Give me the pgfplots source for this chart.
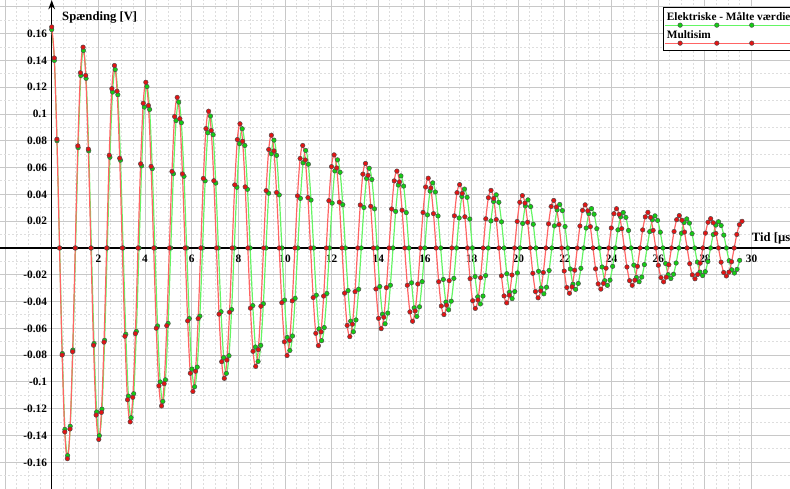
\documentclass[border=0pt]{standalone}
\usepackage{pgfplots}
\pgfplotsset{compat=1.18}
\usepackage{fontspec}
\setmainfont{Liberation Serif}
\usetikzlibrary{arrows.meta}
\definecolor{gline}{RGB}{100,245,100}
\definecolor{gmark}{RGB}{20,205,20}
\definecolor{rline}{RGB}{255,100,100}
\definecolor{rmark}{RGB}{228,20,20}
\definecolor{majgrid}{RGB}{200,200,200}
\definecolor{mingrid}{RGB}{222,222,222}
\begin{document}
\begin{tikzpicture}
\begin{axis}[
  width=592.5pt, height=366.75pt, scale only axis,
  xmin=-2.216, xmax=31.646, ymin=-0.1799, ymax=0.1851,
  axis lines=middle,
  axis line style={black, line width=1.1pt},
  x axis line style={-},
  y axis line style={-{Stealth[length=7pt,width=5pt]}},
  xtick={-2,0,2,4,6,8,10,12,14,16,18,20,22,24,26,28,30},
  xticklabels={,,2,4,6,8,10,12,14,16,18,20,22,24,26,28,30},
  ytick={-0.18,-0.16,-0.14,-0.12,-0.1,-0.08,-0.06,-0.04,-0.02,0,0.02,0.04,0.06,0.08,0.1,0.12,0.14,0.16,0.18},
  yticklabels={,-0.16,-0.14,-0.12,-0.1,-0.08,-0.06,-0.04,-0.02,,0.02,0.04,0.06,0.08,0.1,0.12,0.14,0.16,},
  minor x tick num=3, minor y tick num=1,
  grid=both,
  major grid style={majgrid, line width=0.75pt},
  minor grid style={mingrid, line width=0.75pt, dash pattern=on 1.5pt off 1.5pt},
  major tick length=0pt, minor tick length=0pt,
  tick label style={font=\bfseries\fontsize{8.5}{10}\selectfont},
  xticklabel style={yshift=-2pt},
  legend style={at={(axis description cs:0.8392,0.9857)}, anchor=north west,
    draw=black, line width=0.75pt, fill=white, inner xsep=2.5pt, inner ysep=3.5pt,
    row sep=2pt, font=\bfseries\fontsize{8.5}{10}\selectfont,
    nodes={inner sep=0pt, text height=6pt, text depth=5.5pt}},
  legend cell align=left,
  legend image code/.code={
    \draw[overlay,#1,mark=none] (-1pt,-4pt) -- (140pt,-4pt);
    \path[overlay,#1,draw=none] plot coordinates {(10pt,-4pt) (37.5pt,-4pt) (63.7pt,-4pt)};
  },
]
\addplot[color=gline, line width=0.9pt, smooth, tension=0.55, mark=*, mark size=1.7pt,
  mark options={fill=gmark, draw=black!70, line width=0.35pt, solid}] coordinates {
(0,0.1630) (0.113,0.1400) (0.227,0.0801) (0.340,0) (0.454,-0.0788) (0.567,-0.1354) (0.681,-0.1550) (0.794,-0.1331) (0.907,-0.0762) (1.021,0) (1.134,0.0749) (1.248,0.1287)
(1.361,0.1474) (1.474,0.1266) (1.588,0.0725) (1.701,0) (1.815,-0.0713) (1.928,-0.1224) (2.042,-0.1401) (2.155,-0.1203) (2.268,-0.0689) (2.382,0) (2.495,0.0677) (2.609,0.1164)
(2.722,0.1332) (2.835,0.1144) (2.949,0.0655) (3.062,0) (3.176,-0.0644) (3.289,-0.1106) (3.403,-0.1267) (3.516,-0.1088) (3.629,-0.0623) (3.743,0) (3.856,0.0613) (3.970,0.1052)
(4.083,0.1205) (4.196,0.1034) (4.310,0.0592) (4.423,0) (4.537,-0.0582) (4.650,-0.1000) (4.764,-0.1145) (4.877,-0.0984) (4.990,-0.0563) (5.104,0) (5.217,0.0554) (5.331,0.0951)
(5.444,0.1089) (5.557,0.0935) (5.671,0.0535) (5.784,0) (5.898,-0.0527) (6.011,-0.0904) (6.125,-0.1036) (6.238,-0.0889) (6.351,-0.0509) (6.465,0) (6.578,0.0501) (6.692,0.0860)
(6.805,0.0985) (6.918,0.0846) (7.032,0.0484) (7.145,0) (7.259,-0.0476) (7.372,-0.0818) (7.486,-0.0936) (7.599,-0.0804) (7.712,-0.0460) (7.826,0) (7.939,0.0453) (8.053,0.0778)
(8.166,0.0890) (8.279,0.0765) (8.393,0.0438) (8.506,0) (8.620,-0.0430) (8.733,-0.0739) (8.847,-0.0847) (8.960,-0.0727) (9.073,-0.0416) (9.187,0) (9.300,0.0409) (9.414,0.0703)
(9.527,0.0805) (9.640,0.0691) (9.754,0.0396) (9.867,0) (9.981,-0.0389) (10.094,-0.0668) (10.208,-0.0765) (10.321,-0.0657) (10.434,-0.0376) (10.548,0) (10.661,0.0370) (10.775,0.0636)
(10.888,0.0728) (11.001,0.0625) (11.115,0.0358) (11.228,0) (11.342,-0.0352) (11.455,-0.0604) (11.569,-0.0692) (11.682,-0.0594) (11.795,-0.0340) (11.909,0) (12.022,0.0335) (12.136,0.0575)
(12.249,0.0658) (12.362,0.0565) (12.476,0.0323) (12.589,0) (12.703,-0.0318) (12.816,-0.0546) (12.930,-0.0626) (13.043,-0.0537) (13.156,-0.0308) (13.270,0) (13.383,0.0302) (13.497,0.0519)
(13.610,0.0595) (13.723,0.0511) (13.837,0.0292) (13.950,0) (14.064,-0.0288) (14.177,-0.0494) (14.291,-0.0566) (14.404,-0.0486) (14.517,-0.0278) (14.631,0) (14.744,0.0273) (14.858,0.0470)
(14.971,0.0538) (15.084,0.0462) (15.198,0.0264) (15.311,0) (15.425,-0.0260) (15.538,-0.0447) (15.652,-0.0511) (15.765,-0.0439) (15.878,-0.0251) (15.992,0) (16.105,0.0247) (16.219,0.0425)
(16.332,0.0486) (16.445,0.0418) (16.559,0.0239) (16.672,0) (16.786,-0.0235) (16.899,-0.0404) (17.013,-0.0462) (17.126,-0.0397) (17.239,-0.0227) (17.353,0) (17.466,0.0224) (17.580,0.0384)
(17.693,0.0440) (17.806,0.0378) (17.920,0.0216) (18.033,0) (18.147,-0.0213) (18.260,-0.0365) (18.374,-0.0418) (18.487,-0.0359) (18.600,-0.0206) (18.714,0) (18.827,0.0202) (18.941,0.0347)
(19.054,0.0397) (19.167,0.0341) (19.281,0.0195) (19.394,0) (19.508,-0.0192) (19.621,-0.0330) (19.735,-0.0378) (19.848,-0.0325) (19.961,-0.0186) (20.075,0) (20.188,0.0183) (20.302,0.0314)
(20.415,0.0359) (20.528,0.0309) (20.642,0.0177) (20.755,0) (20.869,-0.0174) (20.982,-0.0298) (21.096,-0.0342) (21.209,-0.0293) (21.322,-0.0168) (21.436,0) (21.549,0.0165) (21.663,0.0284)
(21.776,0.0325) (21.889,0.0279) (22.003,0.0160) (22.116,0) (22.230,-0.0157) (22.343,-0.0270) (22.457,-0.0309) (22.570,-0.0265) (22.683,-0.0152) (22.797,0) (22.910,0.0149) (23.024,0.0256)
(23.137,0.0294) (23.250,0.0252) (23.364,0.0144) (23.477,0) (23.591,-0.0142) (23.704,-0.0244) (23.818,-0.0279) (23.931,-0.0240) (24.044,-0.0137) (24.158,0) (24.271,0.0135) (24.385,0.0232)
(24.498,0.0265) (24.611,0.0228) (24.725,0.0131) (24.838,0) (24.952,-0.0128) (25.065,-0.0220) (25.179,-0.0252) (25.292,-0.0217) (25.405,-0.0124) (25.519,0) (25.632,0.0122) (25.746,0.0210)
(25.859,0.0240) (25.972,0.0206) (26.086,0.0118) (26.199,0) (26.313,-0.0116) (26.426,-0.0199) (26.540,-0.0228) (26.653,-0.0196) (26.766,-0.0112) (26.880,0) (26.993,0.0110) (27.107,0.0190)
(27.220,0.0217) (27.333,0.0186) (27.447,0.0107) (27.560,0) (27.674,-0.0105) (27.787,-0.0180) (27.901,-0.0206) (28.014,-0.0177) (28.127,-0.0101) (28.241,0) (28.354,0.0100) (28.468,0.0171)
(28.581,0.0196) (28.694,0.0168) (28.808,0.0096) (28.921,0) (29.035,-0.0095) (29.148,-0.0163) (29.262,-0.0187) (29.375,-0.0160) (29.488,-0.0092)
};
\addlegendentry{Elektriske - Målte værdier}
\addplot[color=rline, line width=0.9pt, smooth, tension=0.55, mark=*, mark size=1.7pt,
  mark options={fill=rmark, draw=black!70, line width=0.35pt, solid}] coordinates {
(0,0.1650) (0.112,0.1418) (0.224,0.0812) (0.336,0) (0.448,-0.0799) (0.560,-0.1373) (0.673,-0.1573) (0.785,-0.1351) (0.897,-0.0774) (1.009,0) (1.121,0.0762) (1.233,0.1308)
(1.345,0.1499) (1.457,0.1288) (1.569,0.0738) (1.681,0) (1.793,-0.0726) (1.905,-0.1247) (2.018,-0.1429) (2.130,-0.1227) (2.242,-0.0703) (2.354,0) (2.466,0.0692) (2.578,0.1189)
(2.690,0.1362) (2.802,0.1170) (2.914,0.0670) (3.026,0) (3.138,-0.0659) (3.250,-0.1133) (3.363,-0.1298) (3.475,-0.1115) (3.587,-0.0639) (3.699,0) (3.811,0.0628) (3.923,0.1080)
(4.035,0.1237) (4.147,0.1063) (4.259,0.0609) (4.371,0) (4.483,-0.0599) (4.595,-0.1029) (4.708,-0.1179) (4.820,-0.1013) (4.932,-0.0580) (5.044,0) (5.156,0.0571) (5.268,0.0981)
(5.380,0.1124) (5.492,0.0965) (5.604,0.0553) (5.716,0) (5.828,-0.0544) (5.940,-0.0935) (6.053,-0.1071) (6.165,-0.0920) (6.277,-0.0527) (6.389,0) (6.501,0.0519) (6.613,0.0891)
(6.725,0.1021) (6.837,0.0877) (6.949,0.0502) (7.061,0) (7.173,-0.0494) (7.285,-0.0849) (7.398,-0.0973) (7.510,-0.0836) (7.622,-0.0479) (7.734,0) (7.846,0.0471) (7.958,0.0809)
(8.070,0.0927) (8.182,0.0797) (8.294,0.0456) (8.406,0) (8.518,-0.0449) (8.630,-0.0771) (8.743,-0.0884) (8.855,-0.0759) (8.967,-0.0435) (9.079,0) (9.191,0.0428) (9.303,0.0735)
(9.415,0.0842) (9.527,0.0724) (9.639,0.0414) (9.751,0) (9.863,-0.0408) (9.975,-0.0701) (10.088,-0.0803) (10.200,-0.0690) (10.312,-0.0395) (10.424,0) (10.536,0.0389) (10.648,0.0668)
(10.760,0.0765) (10.872,0.0657) (10.984,0.0376) (11.096,0) (11.208,-0.0370) (11.320,-0.0637) (11.433,-0.0729) (11.545,-0.0626) (11.657,-0.0359) (11.769,0) (11.881,0.0353) (11.993,0.0607)
(12.105,0.0695) (12.217,0.0597) (12.329,0.0342) (12.441,0) (12.553,-0.0337) (12.665,-0.0578) (12.778,-0.0662) (12.890,-0.0569) (13.002,-0.0326) (13.114,0) (13.226,0.0321) (13.338,0.0551)
(13.450,0.0631) (13.562,0.0542) (13.674,0.0311) (13.786,0) (13.898,-0.0306) (14.010,-0.0525) (14.123,-0.0602) (14.235,-0.0517) (14.347,-0.0296) (14.459,0) (14.571,0.0291) (14.683,0.0501)
(14.795,0.0574) (14.907,0.0493) (15.019,0.0282) (15.131,0) (15.243,-0.0278) (15.355,-0.0477) (15.468,-0.0547) (15.580,-0.0470) (15.692,-0.0269) (15.804,0) (15.916,0.0265) (16.028,0.0455)
(16.140,0.0521) (16.252,0.0448) (16.364,0.0256) (16.476,0) (16.588,-0.0252) (16.700,-0.0433) (16.813,-0.0497) (16.925,-0.0427) (17.037,-0.0244) (17.149,0) (17.261,0.0240) (17.373,0.0413)
(17.485,0.0473) (17.597,0.0407) (17.709,0.0233) (17.821,0) (17.933,-0.0229) (18.045,-0.0394) (18.158,-0.0451) (18.270,-0.0388) (18.382,-0.0222) (18.494,0) (18.606,0.0218) (18.718,0.0375)
(18.830,0.0430) (18.942,0.0369) (19.054,0.0212) (19.166,0) (19.278,-0.0208) (19.390,-0.0358) (19.503,-0.0410) (19.615,-0.0352) (19.727,-0.0202) (19.839,0) (19.951,0.0198) (20.063,0.0341)
(20.175,0.0391) (20.287,0.0335) (20.399,0.0192) (20.511,0) (20.623,-0.0189) (20.735,-0.0325) (20.848,-0.0372) (20.960,-0.0320) (21.072,-0.0183) (21.184,0) (21.296,0.0180) (21.408,0.0310)
(21.520,0.0355) (21.632,0.0305) (21.744,0.0175) (21.856,0) (21.968,-0.0172) (22.080,-0.0295) (22.193,-0.0338) (22.305,-0.0290) (22.417,-0.0166) (22.529,0) (22.641,0.0164) (22.753,0.0281)
(22.865,0.0322) (22.977,0.0277) (23.089,0.0159) (23.201,0) (23.313,-0.0156) (23.425,-0.0268) (23.538,-0.0307) (23.650,-0.0264) (23.762,-0.0151) (23.874,0) (23.986,0.0149) (24.098,0.0256)
(24.210,0.0293) (24.322,0.0251) (24.434,0.0144) (24.546,0) (24.658,-0.0142) (24.770,-0.0244) (24.883,-0.0279) (24.995,-0.0240) (25.107,-0.0137) (25.219,0) (25.331,0.0135) (25.443,0.0232)
(25.555,0.0266) (25.667,0.0228) (25.779,0.0131) (25.891,0) (26.003,-0.0129) (26.115,-0.0221) (26.228,-0.0253) (26.340,-0.0218) (26.452,-0.0125) (26.564,0) (26.676,0.0123) (26.788,0.0211)
(26.900,0.0242) (27.012,0.0207) (27.124,0.0119) (27.236,0) (27.348,-0.0117) (27.460,-0.0201) (27.573,-0.0230) (27.685,-0.0198) (27.797,-0.0113) (27.909,0) (28.021,0.0111) (28.133,0.0192)
(28.245,0.0219) (28.357,0.0188) (28.469,0.0108) (28.581,0) (28.693,-0.0106) (28.805,-0.0183) (28.918,-0.0209) (29.030,-0.0180) (29.142,-0.0103) (29.254,0) (29.366,0.0101) (29.478,0.0174)
(29.590,0.0199)
};
\addlegendentry{Multisim}
\node[anchor=base west, inner sep=0pt, font=\bfseries\fontsize{9.5}{11}\selectfont] at (axis cs:0.44,0.170) {Spænding [V]};
\node[anchor=base west, inner sep=0pt, font=\bfseries\fontsize{9.5}{11}\selectfont] at (axis cs:30.0,0.0052) {Tid [µs]};
\coordinate (bl) at (rel axis cs:0,0);
\coordinate (tr) at (rel axis cs:1,1);
\end{axis}
\pgfresetboundingbox
\useasboundingbox (bl) rectangle (tr);
\end{tikzpicture}
\end{document}
